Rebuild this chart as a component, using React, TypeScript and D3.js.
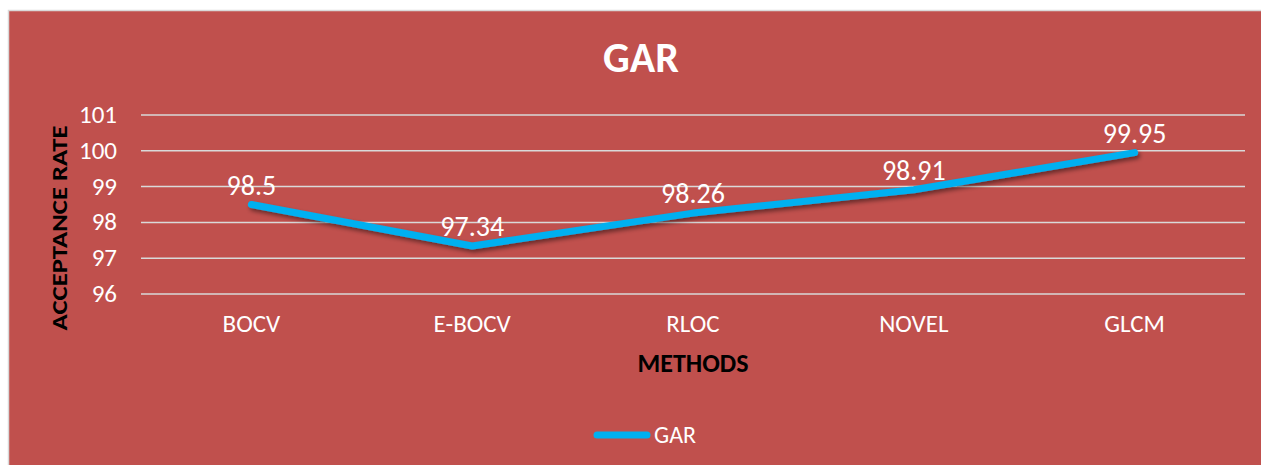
import React from 'react';
import * as d3 from 'd3';

const methods = ['BOCV', 'E-BOCV', 'RLOC', 'NOVEL', 'GLCM'];
const garValues = [98.5, 97.34, 98.26, 98.91, 99.95];
const yTicks = [96, 97, 98, 99, 100, 101];
const seriesName = 'GAR';

const width = 1261;
const height = 465;
const font = 'Carlito, Calibri, Lato, sans-serif';
const red = '#C0504D';
const blue = '#00B0F0';

const x = d3.scaleBand().domain(methods).range([141, 1245]);
const y = d3.scaleLinear().domain([96, 101]).range([294, 115]);
const cx = (m: string) => (x(m) as number) + x.bandwidth() / 2;

const lineGen = d3.line<number>()
  .x((_, i) => cx(methods[i]))
  .y(d => y(d));

const App = () => {
  return (
    <svg width={width} height={height} style={{ position: 'absolute', left: 0, top: 0 }}>
      <defs>
        <filter id="shadow" x="-5%" y="-20%" width="110%" height="160%">
          <feDropShadow dx="2" dy="3" stdDeviation="2" floodColor="#000" floodOpacity="0.45" />
        </filter>
      </defs>
      <rect x={0} y={0} width={width} height={height} fill="#fff" />
      <rect x={8.5} y={10.5} width={1300} height={500} fill={red} stroke="#D9D9D9" strokeWidth={1.5} />

      <text x={641} y={72} textAnchor="middle" fontFamily={font} fontWeight="bold" fontSize={42} fill="#fff">
        GAR
      </text>

      {yTicks.map(t => (
        <g key={t}>
          <line x1={141} x2={1245} y1={y(t)} y2={y(t)} stroke="#D9D9D9" strokeWidth={1.5} />
          <text x={117} y={y(t) + 8} textAnchor="end" fontFamily={font} fontSize={25} fill="#fff">
            {t}
          </text>
        </g>
      ))}

      {methods.map(m => (
        <text key={m} x={cx(m)} y={332} textAnchor="middle" fontFamily={font} fontSize={25} fill="#fff">
          {m}
        </text>
      ))}

      <text
        transform={`translate(67,228) rotate(-90)`}
        textAnchor="middle"
        fontFamily={font}
        fontWeight="bold"
        fontSize={23}
        textLength={205}
        lengthAdjust="spacingAndGlyphs"
        fill="#000"
      >
        ACCEPTANCE RATE
      </text>

      <text x={693} y={372} textAnchor="middle" fontFamily={font} fontWeight="bold" fontSize={26} fill="#000">
        METHODS
      </text>

      <path
        d={lineGen(garValues) || ''}
        fill="none"
        stroke={blue}
        strokeWidth={7}
        strokeLinecap="round"
        strokeLinejoin="round"
        filter="url(#shadow)"
      />

      {garValues.map((v, i) => (
        <text key={i} x={cx(methods[i])} y={y(v) - 10} textAnchor="middle" fontFamily={font} fontSize={28} fill="#fff">
          {v}
        </text>
      ))}

      <line x1={597} x2={647} y1={435} y2={435} stroke={blue} strokeWidth={7} strokeLinecap="round" />
      <text x={654} y={443} fontFamily={font} fontSize={24} fill="#fff">
        {seriesName}
      </text>
    </svg>
  );
};

export default App;
